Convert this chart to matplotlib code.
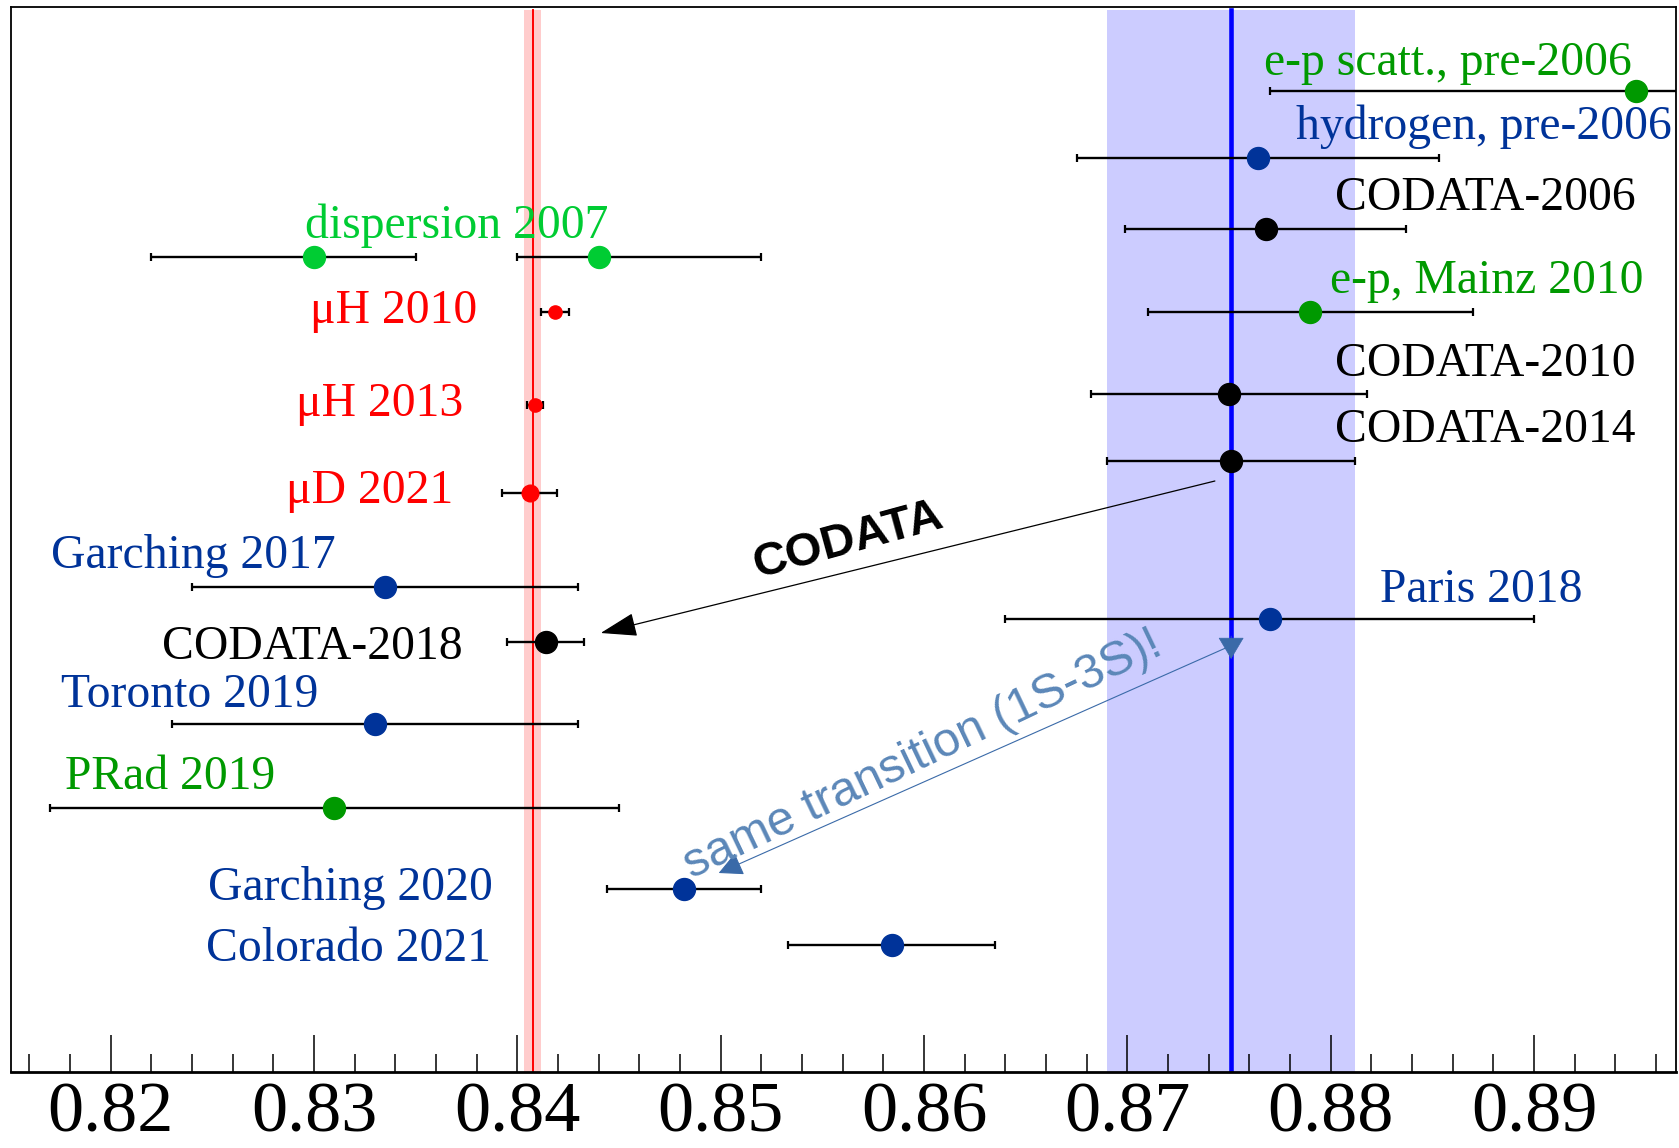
import numpy as np
import matplotlib.pyplot as plt
from matplotlib.ticker import MultipleLocator, FormatStrFormatter

plt.rcParams['font.family'] = ['Liberation Serif', 'DejaVu Serif']

# proton charge radius results (fm): value, lower and upper uncertainty
radius = [0.895, 0.8764, 0.8768, 0.830, 0.844, 0.84184, 0.879, 0.8750, 0.84087,
          0.8751, 0.8406, 0.8335, 0.877, 0.8414, 0.833, 0.831, 0.8482, 0.8584]
err_lo = [0.018, 0.0089, 0.0069, 0.008, 0.004, 0.00068, 0.008, 0.0068, 0.0004,
          0.0061, 0.00134, 0.0095, 0.013, 0.0019, 0.010, 0.014, 0.0038, 0.0051]
err_hi = [0.018, 0.0089, 0.0069, 0.005, 0.008, 0.00068, 0.008, 0.0068, 0.0004,
          0.0061, 0.00134, 0.0095, 0.013, 0.0019, 0.010, 0.014, 0.0038, 0.0051]
kind = ["ep", "H", "codata", "disp", "disp", "muH", "ep", "codata", "muH",
        "codata", "muD", "H", "H", "codata", "H", "ep", "H", "H"]

labels = ["e-p scatt., pre-2006", "hydrogen, pre-2006", "CODATA-2006",
          "dispersion 2007", "μH 2010", "e-p, Mainz 2010", "CODATA-2010",
          "μH 2013", "CODATA-2014", "μD 2021", "Garching 2017", "Paris 2018",
          "CODATA-2018", "Toronto 2019", "PRad 2019", "Garching 2020",
          "Colorado 2021"]
label_kind = ["ep", "H", "codata", "disp", "muH", "ep", "codata", "muH",
              "codata", "muD", "H", "H", "codata", "H", "ep", "H", "H"]

# reference bands: muonic value and CODATA-2014
muon_r, muon_w = 0.84075, 0.0004
codata_r, codata_w = 0.8751, 0.0061

# layout: vertical rows (top to bottom) and label anchors
point_row = [91, 157.7, 229, 257.3, 257.3, 311.7, 311.7, 394, 405, 460.7, 493,
             586.7, 619.3, 641.7, 724.3, 807.7, 889.3, 945]
label_x = [0.89482, 0.89677, 0.89499, 0.82954, 0.83805, 0.89539, 0.89499,
           0.83736, 0.89499, 0.83687, 0.81705, 0.8924, 0.83731, 0.81758,
           0.81774, 0.8388, 0.83869]
label_row = [75, 139, 210, 238, 323, 293, 376, 416, 441.7, 502.7, 568, 602,
             659, 706.7, 789.3, 900, 960.7]
label_ha = ["right", "right", "right", "left", "right", "right", "right",
            "right", "right", "right", "left", "right", "right", "left",
            "left", "right", "right"]

colors = {"ep": "#009900", "H": "#003399", "codata": "black",
          "disp": "#00cc33", "muH": "#ff0000", "muD": "#ff0000"}
msize = {"ep": 15.8, "H": 15.8, "codata": 15.8, "disp": 15.8,
         "muH": 9.5, "muD": 12}

fig = plt.figure(figsize=(16.79, 11.48), dpi=100)
ax = fig.add_axes([0.00655, 0.06646, 0.99196, 0.92787])
ax.set_xlim(0.8151, 0.8970)
ax.set_ylim(1071.7, 6.5)

ax.axvspan(muon_r - muon_w, muon_r + muon_w, ymax=0.997, color='#ffcccc', lw=0, zorder=0)
ax.axvline(muon_r, ymax=0.997, color='#ff0000', lw=1.4, zorder=1)
ax.axvspan(codata_r - codata_w, codata_r + codata_w, ymax=0.997, color='#ccccff', lw=0, zorder=0)
ax.axvline(codata_r, ymax=0.997, color='#0000ff', lw=3.3, zorder=1)

for r, lo, hi, y, k in zip(radius, err_lo, err_hi, point_row, kind):
    ax.errorbar(r, y, xerr=[[lo], [hi]], fmt='o', color=colors[k], mec=colors[k],
                ms=msize[k], ecolor='black', elinewidth=1.7, capsize=2.7,
                capthick=1.6, zorder=3)

for txt, x, y, ha, k in zip(labels, label_x, label_row, label_ha, label_kind):
    ax.text(x, y, txt, fontsize=34.3, color=colors[k], ha=ha, va='baseline', zorder=4)

# CODATA arrow
ax.annotate('', xy=(0.8441, 633), xytext=(0.8743, 481),
            arrowprops=dict(arrowstyle='-|>,head_length=2.3,head_width=0.75',
                            color='black', lw=0.9, shrinkA=0, shrinkB=0,
                            mutation_scale=10), zorder=4)
ax.text(0.8564, 552, 'CODATA', family='Liberation Sans', weight='bold',
        fontsize=34, rotation=15.3, rotation_mode='anchor', ha='center',
        va='baseline', zorder=4)

# same transition arrow, head at the lower end plus a downward head on the blue line
blue_arrow = '#3a6aa8'
ax.annotate('', xy=(0.8499, 873), xytext=(0.87494, 647),
            arrowprops=dict(arrowstyle='-|>,head_length=1.5,head_width=0.75',
                            color=blue_arrow, lw=0.8, shrinkA=0, shrinkB=0,
                            mutation_scale=10), zorder=4)
ax.annotate('', xy=(codata_r, 659), xytext=(codata_r, 636),
            arrowprops=dict(arrowstyle='-|>,head_length=1.45,head_width=0.86',
                            color=blue_arrow, lw=0.5, shrinkA=0, shrinkB=0,
                            mutation_scale=10), zorder=4)
ax.text(0.8602, 766, 'same transition (1S-3S)!', family='Liberation Sans',
        fontsize=35, color='#5b87b8', rotation=25.5, rotation_mode='anchor',
        ha='center', va='baseline', zorder=4)

ax.xaxis.set_major_locator(MultipleLocator(0.01))
ax.xaxis.set_minor_locator(MultipleLocator(0.002))
ax.xaxis.set_major_formatter(FormatStrFormatter('%.2f'))
ax.tick_params(axis='x', which='major', direction='in', length=26.6, width=1.1,
               labelsize=52, pad=7, top=False)
ax.tick_params(axis='x', which='minor', direction='in', length=13, width=1.1, top=False)
ax.set_yticks([])

for side in ['left', 'right', 'top']:
    ax.spines[side].set_linewidth(1.3)
ax.spines['bottom'].set_linewidth(2)

fig.savefig('out.png', dpi=100)
